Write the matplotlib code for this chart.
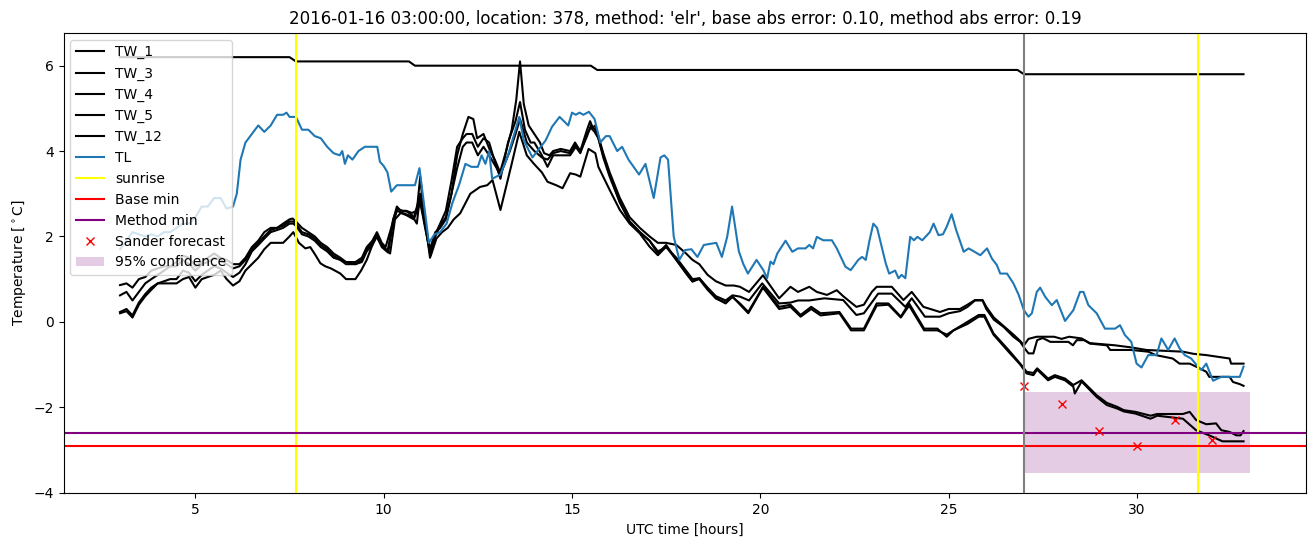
import matplotlib
matplotlib.use('Agg')
import matplotlib.pyplot as plt

# ============================================================================
# Data (UTC hours, degrees C)
# ============================================================================

tw1_t = [3.0, 7.5, 7.67, 10.67, 10.83, 15.5, 15.67, 26.83, 27.0, 32.83]
tw1_v = [6.2, 6.2, 6.1, 6.1, 6.0, 6.0, 5.9, 5.9, 5.8, 5.8]

tw3_t = [3.0, 3.17, 3.33, 3.5, 3.67, 3.83, 4.0, 4.17, 4.33, 4.5, 4.67, 4.83, 5.0, 5.17, 5.33,
         5.5, 5.67, 5.83, 6.0, 6.17, 6.33, 6.5, 6.67, 6.83, 7.0, 7.17, 7.33, 7.5, 7.58, 7.67,
         7.83, 8.0, 8.17, 8.33, 8.5, 8.67, 8.85, 9.0, 9.25, 9.42, 9.55, 9.7, 9.82, 9.95, 10.05,
         10.2, 10.35, 10.45, 10.6, 10.75, 10.88, 10.97, 11.08, 11.23, 11.37, 11.5, 11.65, 11.8,
         11.95, 12.1, 12.25, 12.38, 12.48, 12.65, 12.83, 12.95, 13.09, 13.25, 13.4, 13.52, 13.62,
         13.72, 13.85, 14.0, 14.15, 14.26, 14.4, 14.5, 14.7, 14.95, 15.08, 15.22, 15.4, 15.48,
         15.55, 15.62, 15.7, 15.83, 16.0, 16.27, 16.53, 16.8, 17.06, 17.28, 17.5, 17.77, 18.03,
         18.2, 18.38, 18.6, 18.82, 19.08, 19.3, 19.46, 19.7, 20.07, 20.3, 20.5, 20.8, 21.0, 21.3,
         21.5, 21.77, 22.03, 22.2, 22.55, 22.75, 22.96, 23.09, 23.49, 23.8, 24.02, 24.33, 24.77,
         25.0, 25.3, 25.5, 25.7, 25.9, 26.0, 26.2, 26.46, 26.72, 26.9, 27.0, 27.12, 27.34, 27.8,
         28.0, 28.2, 28.53, 28.75, 29.41, 29.85, 30.25, 31.22, 31.5, 31.84, 32.46, 32.5, 32.83]
tw3_v = [0.86, 0.9, 0.8, 1.0, 1.05, 1.2, 1.25, 1.3, 1.3, 1.4, 1.55, 1.5, 1.3, 1.4, 1.5,
         1.6, 1.5, 1.45, 1.35, 1.35, 1.5, 1.75, 1.9, 2.1, 2.2, 2.2, 2.3, 2.4, 2.42, 2.35,
         2.2, 2.1, 2.0, 1.85, 1.75, 1.6, 1.5, 1.4, 1.4, 1.5, 1.75, 1.9, 2.1, 1.85, 1.75,
         2.2, 2.7, 2.6, 2.6, 2.55, 2.6, 3.4, 2.4, 1.7, 2.1, 2.2, 2.4, 3.0,
         3.9, 4.4, 4.8, 4.75, 4.3, 4.4, 4.0, 3.8, 3.5, 4.0, 4.5, 5.2, 6.1,
         5.1, 4.6, 4.4, 4.2, 3.95, 3.9, 4.0, 4.05, 4.0, 4.2, 4.0, 4.5, 4.7,
         4.55, 4.6, 4.35, 3.95, 3.5, 2.9, 2.45, 2.2, 2.0, 1.85, 1.85, 1.8, 1.6,
         1.45, 1.35, 1.1, 0.95, 0.85, 0.85, 0.82, 0.7, 1.09, 0.8, 0.55, 0.82, 0.7, 0.82,
         0.7, 0.63, 0.74, 0.6, 0.35, 0.4, 0.7, 0.82, 0.82, 0.51, 0.7, 0.35, 0.23,
         0.3, 0.3, 0.4, 0.51, 0.51, 0.35, 0.1, -0.1, -0.3, -0.45, -0.55, -0.4, -0.35, -0.35,
         -0.4, -0.35, -0.39, -0.5, -0.55, -0.6, -0.66, -0.7, -0.75, -0.78, -0.86, -0.98, -0.98]

tw4_t = [3.0, 3.17, 3.33, 3.5, 3.67, 3.83, 4.0, 4.17, 4.33, 4.5, 4.67, 4.83, 5.0, 5.17, 5.33,
         5.5, 5.67, 5.83, 6.0, 6.17, 6.33, 6.5, 6.67, 6.83, 7.0, 7.17, 7.33, 7.5, 7.6, 7.67,
         7.83, 8.0, 8.17, 8.33, 8.5, 8.67, 8.85, 9.0, 9.25, 9.42, 9.55, 9.7, 9.82, 9.95, 10.1,
         10.25, 10.35, 10.5, 10.65, 10.8, 10.95, 11.05, 11.23, 11.37, 11.5, 11.65, 11.8, 11.95,
         12.1, 12.2, 12.35, 12.5, 12.65, 12.8, 12.9, 13.1, 13.3, 13.5, 13.62, 13.75, 13.9, 14.0,
         14.2, 14.35, 14.5, 14.7, 14.95, 15.1, 15.22, 15.4, 15.5, 15.6, 15.7, 15.83, 16.0, 16.27,
         16.53, 16.8, 17.06, 17.28, 17.5, 17.77, 18.03, 18.2, 18.38, 18.6, 18.82, 19.08, 19.26,
         19.46, 19.7, 20.05, 20.5, 20.8, 21.0, 21.3, 21.7, 22.2, 22.55, 22.75, 23.13, 23.49,
         23.85, 24.02, 24.37, 24.77, 25.0, 25.3, 25.5, 25.7, 25.9, 26.0, 26.2, 26.46, 26.72,
         26.9, 27.0, 27.12, 27.25, 27.35, 27.5, 27.7, 28.18, 28.3, 28.4, 28.6, 28.75, 29.2,
         29.29, 29.85, 30.3, 30.5, 30.95, 31.13, 31.4, 31.57, 31.84, 31.92, 32.46, 32.55, 32.73,
         32.83]
tw4_v = [0.62, 0.7, 0.5, 0.7, 0.9, 1.0, 1.1, 1.2, 1.3, 1.3, 1.45, 1.35, 1.2, 1.35, 1.4,
         1.5, 1.45, 1.35, 1.25, 1.3, 1.45, 1.7, 1.85, 2.0, 2.15, 2.2, 2.25, 2.35, 2.35, 2.3,
         2.1, 2.05, 1.95, 1.8, 1.7, 1.55, 1.45, 1.4, 1.35, 1.45, 1.7, 1.85, 2.05, 1.8, 1.65,
         2.3, 2.6, 2.55, 2.5, 2.45, 2.9, 2.5, 1.6, 2.05, 2.3, 2.6, 3.3, 4.1,
         4.3, 4.4, 4.4, 4.1, 4.3, 4.2, 3.9, 3.35, 4.2, 4.7, 5.15, 4.5, 4.2, 4.2,
         3.9, 3.63, 3.9, 3.9, 3.9, 4.1, 3.95, 4.4, 4.55, 4.45, 4.3, 3.85, 3.4, 2.8,
         2.35, 2.1, 1.9, 1.65, 1.75, 1.5, 1.2, 1.0, 1.02, 0.8, 0.6, 0.5, 0.62,
         0.59, 0.5, 0.9, 0.43, 0.45, 0.5, 0.5, 0.55, 0.51, 0.16, 0.2, 0.66, 0.66,
         0.35, 0.55, 0.12, 0.12, 0.2, 0.25, 0.35, 0.5, 0.5, 0.3, 0.05, -0.12, -0.35,
         -0.47, -0.6, -0.74, -0.74, -0.43, -0.38, -0.47, -0.47, -0.55, -0.43, -0.43, -0.51, -0.55,
         -0.66, -0.66, -0.7, -0.78, -0.86, -0.98, -0.98, -1.05, -1.17, -1.29, -1.29, -1.41, -1.46,
         -1.5]

tw5_t = [3.0, 3.17, 3.33, 3.5, 3.67, 3.83, 4.0, 4.17, 4.33, 4.5, 4.67, 4.83, 5.0, 5.17, 5.33,
         5.5, 5.67, 5.83, 6.0, 6.17, 6.33, 6.5, 6.67, 6.83, 7.0, 7.17, 7.33, 7.5, 7.6, 7.67,
         7.83, 8.0, 8.17, 8.33, 8.5, 8.67, 8.85, 9.0, 9.25, 9.42, 9.55, 9.7, 9.82, 9.95, 10.12,
         10.25, 10.35, 10.5, 10.62, 10.75, 10.88, 10.97, 11.08, 11.23, 11.37, 11.5, 11.65, 11.8,
         11.95, 12.1, 12.2, 12.35, 12.5, 12.65, 12.8, 13.0, 13.1, 13.35, 13.5, 13.62, 13.8, 14.0,
         14.2, 14.35, 14.5, 14.7, 14.95, 15.08, 15.22, 15.4, 15.5, 15.62, 15.7, 15.83, 16.0,
         16.27, 16.53, 16.8, 17.06, 17.28, 17.5, 17.77, 18.03, 18.2, 18.38, 18.6, 18.82, 19.08,
         19.26, 19.46, 19.68, 20.07, 20.5, 20.8, 21.07, 21.35, 21.6, 22.1, 22.41, 22.75, 23.09,
         23.4, 23.73, 23.95, 24.35, 24.7, 24.95, 25.13, 25.5, 25.8, 25.95, 26.19, 26.59, 26.9,
         27.07, 27.25, 27.35, 27.64, 27.82, 28.09, 28.31, 28.53, 28.93, 29.2, 29.47, 29.65,
         29.96, 30.36, 30.54, 31.22, 31.4, 31.57, 31.84, 32.1, 32.24, 32.46, 32.64, 32.75, 32.83]
tw5_v = [0.23, 0.3, 0.15, 0.45, 0.65, 0.8, 0.9, 0.95, 1.0, 1.0, 1.2, 1.15, 0.95, 1.1, 1.2,
         1.3, 1.25, 1.15, 1.05, 1.15, 1.35, 1.65, 1.8, 1.95, 2.1, 2.15, 2.2, 2.3, 2.3, 2.25,
         2.05, 2.0, 1.9, 1.75, 1.65, 1.5, 1.45, 1.35, 1.35, 1.4, 1.65, 1.8, 2.0, 1.75, 1.62,
         2.4, 2.65, 2.6, 2.58, 2.5, 2.3, 3.0, 2.5, 1.5, 2.0, 2.25, 2.45, 3.0,
         3.6, 4.1, 4.2, 4.2, 3.9, 4.1, 3.9, 3.6, 3.45, 4.0, 4.4, 4.75, 4.2, 4.0,
         3.85, 3.8, 3.95, 4.0, 3.95, 4.15, 3.98, 4.35, 4.6, 4.5, 4.3, 3.9, 3.45,
         2.8, 2.35, 2.1, 1.9, 1.6, 1.8, 1.45, 1.15, 0.95, 1.0, 0.75, 0.55, 0.45,
         0.58, 0.43, 0.23, 0.82, 0.35, 0.4, 0.16, 0.35, 0.2, 0.23, -0.16, -0.16, 0.43,
         0.43, 0.12, 0.43, -0.16, -0.16, -0.35, -0.2, 0.0, 0.16, 0.16, -0.27, -0.66, -0.98,
         -1.17, -1.2, -1.09, -1.33, -1.25, -1.33, -1.48, -1.37, -1.72, -1.9, -1.99, -2.07,
         -2.11, -2.2, -2.16, -2.16, -2.11, -2.3, -2.4, -2.38, -2.54, -2.58, -2.66, -2.66, -2.56]

tw12_t = [3.0, 3.17, 3.33, 3.5, 3.67, 3.83, 4.0, 4.17, 4.33, 4.5, 4.67, 4.83, 5.0, 5.17, 5.33,
          5.5, 5.67, 5.83, 6.0, 6.17, 6.33, 6.5, 6.67, 6.83, 7.0, 7.17, 7.33, 7.5, 7.6, 7.75,
          7.92, 8.05, 8.19, 8.32, 8.45, 8.6, 8.85, 9.0, 9.25, 9.4, 9.55, 9.7, 9.8, 9.95, 10.17,
          10.3, 10.45, 10.6, 10.8, 10.97, 11.1, 11.25, 11.4, 11.55, 11.7, 11.86, 12.03, 12.3,
          12.56, 12.75, 12.89, 13.1, 13.38, 13.6, 13.8, 13.98, 14.2, 14.35, 14.58, 14.75, 14.95,
          15.1, 15.22, 15.44, 15.62, 15.7, 16.0, 16.27, 16.53, 16.8, 17.06, 17.28, 17.5, 17.77,
          18.03, 18.2, 18.38, 18.64, 18.82, 19.08, 19.26, 19.56, 19.68, 20.07, 20.5, 20.8, 21.07,
          21.35, 21.6, 22.1, 22.41, 22.75, 23.09, 23.4, 23.73, 23.95, 24.35, 24.7, 24.95, 25.13,
          25.5, 25.8, 25.95, 26.19, 26.59, 26.9, 27.07, 27.25, 27.35, 27.64, 27.82, 28.09, 28.31,
          28.35, 28.53, 28.93, 29.2, 29.47, 29.65, 29.96, 30.36, 30.54, 31.22, 31.57, 31.92,
          32.27, 32.83]
tw12_v = [0.2, 0.25, 0.1, 0.4, 0.6, 0.75, 0.9, 0.9, 0.9, 0.9, 1.0, 1.05, 0.8, 1.0, 1.05,
          1.1, 1.2, 1.0, 0.85, 0.95, 1.2, 1.35, 1.5, 1.7, 1.85, 1.85, 1.85, 2.0, 2.1, 1.85,
          1.72, 1.75, 1.56, 1.37, 1.3, 1.25, 1.13, 1.0, 1.0, 1.2, 1.45, 1.8, 2.0, 1.8, 1.6,
          2.4, 2.55, 2.5, 2.4, 2.8, 2.2, 1.55, 1.95, 2.1, 2.2, 2.4, 2.54, 3.0,
          3.16, 3.2, 3.32, 2.62, 3.63, 4.45, 3.9, 3.71, 3.5, 3.28, 3.2, 3.13, 3.48,
          3.45, 3.4, 4.05, 3.95, 3.63, 3.09, 2.62, 2.3, 2.07, 1.76, 1.56, 1.76, 1.45,
          1.13, 0.94, 1.02, 0.74, 0.55, 0.43, 0.59, 0.31, 0.2, 0.8, 0.3, 0.35, 0.12,
          0.3, 0.15, 0.2, -0.2, -0.2, 0.38, 0.4, 0.1, 0.38, -0.2, -0.2, -0.3, -0.2,
          -0.05, 0.12, 0.12, -0.3, -0.7, -1.0, -1.21, -1.25, -1.12, -1.37, -1.29, -1.37, -1.52,
          -1.68, -1.4, -1.76, -1.95, -2.03, -2.1, -2.15, -2.27, -2.2, -2.27, -2.54, -2.66,
          -2.8, -2.8]

tl_t = [3.0, 3.17, 3.33, 3.5, 3.67, 3.83, 4.0, 4.17, 4.33, 4.5, 4.67, 4.83, 5.0, 5.17, 5.33,
        5.5, 5.67, 5.83, 6.0, 6.1, 6.2, 6.33, 6.5, 6.67, 6.83, 7.0, 7.17, 7.33, 7.42, 7.5, 7.67,
        7.83, 8.0, 8.17, 8.33, 8.5, 8.67, 8.83, 8.9, 8.97, 9.05, 9.17, 9.33, 9.5, 9.67, 9.83,
        9.9, 10.0, 10.1, 10.2, 10.35, 10.5, 10.67, 10.83, 10.95, 11.2, 11.35, 11.5, 11.67, 11.83,
        12.0, 12.17, 12.33, 12.5, 12.6, 12.7, 12.8, 12.88, 13.1, 13.3, 13.6, 13.72, 13.95, 14.3,
        14.47, 14.67, 14.9, 15.0, 15.1, 15.2, 15.3, 15.45, 15.6, 15.75, 15.9, 16.0, 16.2, 16.33,
        16.5, 16.78, 16.95, 17.17, 17.35, 17.45, 17.55, 17.7, 17.85, 18.0, 18.17, 18.33, 18.5,
        18.83, 18.98, 19.12, 19.25, 19.43, 19.55, 19.67, 19.9, 20.08, 20.18, 20.27, 20.35, 20.45,
        20.67, 20.85, 21.0, 21.2, 21.3, 21.4, 21.5, 21.67, 21.9, 22.03, 22.26, 22.4, 22.6, 22.7,
        22.8, 22.9, 23.0, 23.1, 23.33, 23.42, 23.58, 23.67, 23.75, 23.85, 23.98, 24.08, 24.17,
        24.3, 24.5, 24.6, 24.73, 24.85, 24.95, 25.08, 25.2, 25.4, 25.53, 25.67, 25.84, 26.02,
        26.15, 26.28, 26.37, 26.55, 26.72, 26.86, 27.0, 27.12, 27.21, 27.34, 27.43, 27.56, 27.74,
        27.87, 28.09, 28.31, 28.49, 28.58, 28.71, 28.93, 29.15, 29.42, 29.55, 29.68, 29.85, 29.99,
        30.12, 30.3, 30.52, 30.65, 30.83, 31.0, 31.13, 31.27, 31.44, 31.62, 31.71, 31.84, 32.02,
        32.24, 32.73, 32.83]
tl_v = [1.7, 1.9, 2.1, 2.05, 2.0, 2.05, 2.0, 2.1, 2.1, 2.2, 2.3, 2.3, 2.45, 2.7, 2.7,
        2.9, 2.9, 2.65, 2.7, 3.0, 3.8, 4.2, 4.4, 4.6, 4.45, 4.6, 4.85, 4.85, 4.9, 4.8, 4.8,
        4.5, 4.5, 4.35, 4.3, 4.1, 3.95, 3.9, 4.0, 3.7, 3.9, 3.8, 4.0, 4.1, 4.1, 4.1,
        3.75, 3.65, 3.5, 3.05, 3.2, 3.2, 3.2, 3.2, 3.6, 1.85, 2.05, 2.1, 2.3, 2.8,
        3.2, 3.7, 3.63, 3.63, 3.9, 3.7, 4.0, 3.35, 3.45, 3.9, 4.8, 4.25, 3.85, 4.25,
        4.57, 4.8, 4.6, 4.9, 4.85, 4.9, 4.85, 4.92, 4.75, 4.2, 4.35, 4.35, 4.0, 4.1,
        3.8, 3.45, 3.7, 2.9, 3.85, 3.9, 3.8, 2.0, 1.45, 1.68, 1.7, 1.52, 1.8,
        1.85, 1.52, 1.99, 2.7, 1.65, 1.35, 1.13, 1.45, 1.21, 1.02, 1.41, 1.35, 1.6,
        1.9, 1.64, 1.72, 1.72, 1.8, 1.72, 1.99, 1.91, 1.91, 1.72, 1.29, 1.21, 1.45, 1.52,
        1.45, 1.91, 2.3, 2.2, 1.37, 1.13, 1.2, 1.02, 1.1, 1.02, 1.99, 1.91, 1.99,
        1.91, 2.1, 2.3, 2.03, 2.05, 2.23, 2.52, 2.15, 1.64, 1.72, 1.65, 1.56, 1.72,
        1.48, 1.33, 1.13, 1.13, 0.9, 0.63, 0.27, 0.12, 0.2, 0.7, 0.8, 0.59, 0.39,
        0.51, 0.02, 0.27, 0.7, 0.7, 0.39, 0.2, -0.16, -0.16, -0.08, -0.31, -0.47, -0.98,
        -1.07, -0.78, -0.78, -0.39, -0.66, -0.39, -0.62, -0.78, -0.86, -1.05, -1.13, -0.98, -1.38,
        -1.29, -1.29, -1.05]

sunrise_hours = [7.67, 31.63]
base_min = -2.9
method_min = -2.61
forecast_start = 27

sander_hours = [27, 28, 29, 30, 31, 32]
sander_values = [-1.5, -1.93, -2.55, -2.9, -2.31, -2.76]

conf_hours = [27, 33]
conf_low = [-3.54, -3.54]
conf_high = [-1.65, -1.65]

title = ("2016-01-16 03:00:00, location: 378, method: 'elr', "
         "base abs error: 0.10, method abs error: 0.19")

# ============================================================================
# Plot
# ============================================================================

fig, ax = plt.subplots(figsize=(13.13, 5.47), dpi=100)

ax.plot(tw1_t, tw1_v, color='black', label='TW_1')
ax.plot(tw3_t, tw3_v, color='black', label='TW_3')
ax.plot(tw4_t, tw4_v, color='black', label='TW_4')
ax.plot(tw5_t, tw5_v, color='black', label='TW_5')
ax.plot(tw12_t, tw12_v, color='black', label='TW_12')
ax.plot(tl_t, tl_v, color='C0', label='TL')

# sunrise markers (only the first one goes in the legend)
for i, h in enumerate(sunrise_hours):
    ax.axvline(h, color='yellow', label='sunrise' if i == 0 else None)

ax.axhline(base_min, color='red', label='Base min')
ax.axhline(method_min, color='purple', label='Method min')

ax.plot(sander_hours, sander_values, 'x', color='red', linestyle='none', label='Sander forecast')
ax.fill_between(conf_hours, conf_low, conf_high, color='purple', alpha=0.2,
                linewidth=0, label='95% confidence')
ax.axvline(forecast_start, color='gray')

ax.set_ylim(-4.02, 6.77)
ax.set_title(title)
ax.set_xlabel('UTC time [hours]')
ax.set_ylabel(r'Temperature [$^\circ$C]')
ax.legend(loc='upper left')

fig.subplots_adjust(left=0.0484, right=0.995, top=0.940, bottom=0.098)
fig.savefig('out.png', dpi=100)
